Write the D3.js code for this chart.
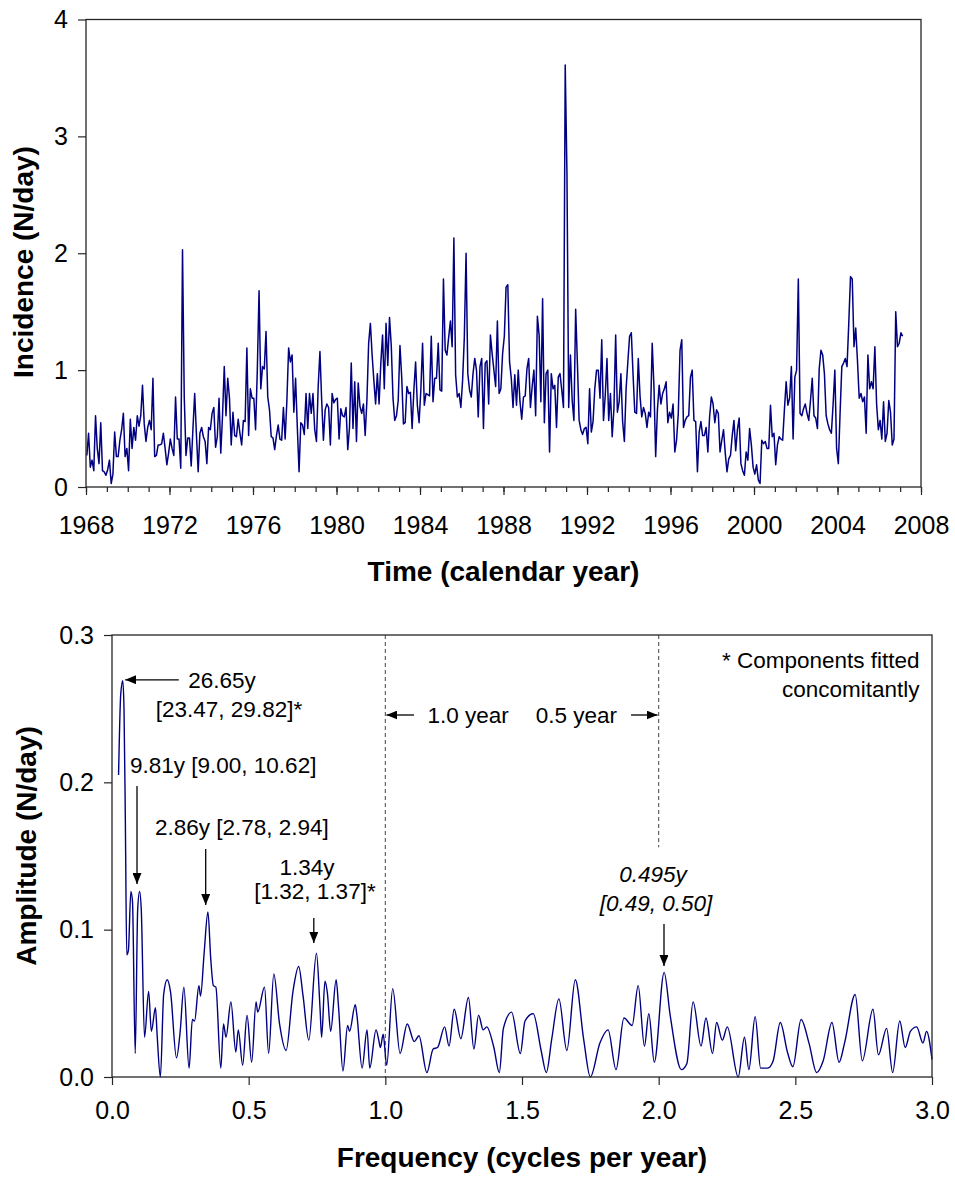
<!DOCTYPE html>
<html><head><meta charset="utf-8">
<script src="https://cdn.jsdelivr.net/npm/d3@7"></script>
<style>
body{margin:0;background:#fff}
svg{display:block}
text{font-family:"Liberation Sans", Arial, Helvetica, sans-serif; fill:#000}
</style>
</head><body>
<svg id="c" width="955" height="1180"></svg>
<script>
// ---------------- DATA ----------------
// Monthly incidence (N/day), starting January 1968
const startYear = 1968.04;
const incidence = [
0.27,0.46,0.17,0.23,0.14,0.61,0.33,0.20,0.55,0.14,0.13,0.10,
0.15,0.23,0.03,0.11,0.47,0.26,0.26,0.40,0.49,0.63,0.26,0.33,
0.14,0.58,0.33,0.51,0.40,0.61,0.52,0.61,0.87,0.54,0.39,0.51,
0.57,0.49,0.93,0.26,0.27,0.36,0.36,0.37,0.46,0.33,0.19,0.29,
0.41,0.33,0.27,0.77,0.41,0.41,0.16,2.03,0.77,0.27,0.42,0.42,
0.18,0.50,0.80,0.45,0.13,0.46,0.51,0.43,0.39,0.20,0.51,0.49,
0.63,0.68,0.34,0.43,0.76,0.29,0.61,1.03,0.61,0.93,0.76,0.36,
0.64,0.44,0.43,0.58,0.46,0.36,0.57,0.56,1.19,0.44,0.84,0.76,
0.76,0.49,1.00,1.68,0.84,1.03,1.01,1.33,0.77,0.66,0.43,0.42,
0.32,0.44,0.53,0.41,0.40,0.68,0.41,0.74,1.19,1.07,1.13,0.64,
0.93,0.51,
0.13,0.55,0.53,0.45,0.80,0.50,0.80,0.63,0.80,0.49,0.39,0.86,
1.16,0.74,0.40,0.66,0.71,0.68,0.36,0.80,0.72,0.75,0.76,0.41,
0.67,0.61,0.60,0.68,0.32,0.51,1.06,0.50,0.90,0.39,0.89,0.69,
0.63,0.71,0.44,0.74,1.23,1.40,1.13,0.91,0.71,0.97,0.71,1.06,
1.30,0.84,1.40,1.04,1.45,1.21,0.76,0.57,0.61,0.74,1.21,0.94,
0.54,0.55,0.86,0.80,0.81,0.50,0.83,1.07,0.70,0.55,0.83,1.23,
0.70,0.80,0.79,0.78,1.29,0.73,0.93,0.93,1.23,0.83,0.82,1.78,
1.17,1.13,1.28,1.42,1.20,2.13,0.96,0.77,0.80,0.68,0.91,1.28,
2.00,0.97,0.83,0.77,0.97,1.10,1.00,0.60,1.03,1.10,0.50,1.06,
1.08,0.71,1.30,1.14,1.00,0.86,1.42,0.80,0.84,1.14,1.29,1.71,1.73,
1.07,0.93,0.68,0.96,0.70,1.00,0.73,0.58,0.77,0.78,1.01,1.10,
0.68,0.86,1.00,0.61,1.46,1.30,0.73,1.61,0.55,0.97,1.00,0.30,
0.97,0.84,0.87,0.51,0.94,0.97,0.83,0.68,3.61,2.68,0.68,1.13,
0.74,0.57,1.52,1.06,0.57,0.49,0.45,0.50,0.51,0.37,0.84,0.47,
0.56,0.84,1.00,1.00,0.76,1.26,0.57,0.78,1.10,0.57,0.80,0.43,
0.67,1.30,0.64,0.73,0.97,0.56,0.39,0.84,1.07,1.29,1.32,0.96,
0.64,0.63,1.10,0.78,0.60,0.68,0.63,0.51,0.64,0.60,1.23,0.86,
0.26,0.66,0.87,0.71,0.80,0.84,0.90,0.55,0.64,0.59,0.71,0.30,
0.40,0.63,1.17,1.26,0.51,0.57,0.60,0.61,0.94,1.00,0.57,0.56,
0.13,0.47,0.56,0.44,0.44,0.51,0.30,0.60,0.77,0.71,0.55,0.66,0.63,
0.30,0.40,0.49,0.29,0.13,0.24,0.27,0.44,0.57,0.31,0.49,0.59,
0.20,0.14,0.10,0.30,0.23,0.50,0.36,0.17,0.11,0.19,0.06,0.03,
0.40,0.37,0.39,0.33,0.33,0.70,0.43,0.46,0.19,0.36,0.43,0.41,
0.40,0.66,0.90,0.70,0.76,1.03,0.41,0.94,1.00,1.78,0.63,0.61,
0.67,0.71,0.63,0.57,0.74,0.93,0.61,0.59,0.50,1.01,1.17,1.13,
0.97,0.61,0.54,0.49,0.46,0.71,1.00,0.33,0.20,0.63,1.03,1.06,
1.10,1.03,1.40,1.80,1.78,1.20,1.36,1.08,0.76,0.80,0.73,0.77,
0.46,1.13,0.84,0.90,0.84,1.20,0.71,0.49,0.57,0.41,0.73,0.39,
0.46,0.74,0.64,0.36,0.41,1.50,1.20,1.23,1.32,1.29
];
const yearMajorTicks = [1968,1972,1976,1980,1984,1988,1992,1996,2000,2004,2008];
const yearMinorTicks = d3.range(1968, 2009, 1);
const incTicks = [0,1,2,3,4];

// Amplitude spectrum (local extrema of the curve)
const specFreq = [
0.024,0.032,0.0395,0.044,0.049,0.054,0.060,0.069,0.075,0.085,0.094,0.101,0.107,0.119,0.134,0.144,0.159,0.165,0.177,0.189,0.202,0.214,0.236,0.249,0.263,0.282,0.294,0.302,0.318,0.324,0.337,0.351,0.361,0.371,0.380,0.398,0.408,0.417,0.435,0.453,0.462,0.478,0.494,0.511,0.527,0.533,0.558,0.573,0.592,0.613,0.637,0.662,0.683,0.699,0.720,0.748,
0.761,0.767,0.779,0.788,0.800,0.820,0.829,0.845,0.862,0.869,0.890,0.896,0.915,0.933,0.943,0.966,0.976,
0.982,0.992,1.005,1.027,1.054,1.080,1.106,1.123,1.152,1.175,1.191,1.217,1.233,1.252,1.276,1.304,1.324,1.341,1.358,1.371,1.397,1.417,1.432,1.462,1.494,1.511,1.541,1.570,1.589,1.609,1.635,1.664,1.695,1.726,1.750,1.785,1.815,1.844,1.873,1.903,1.925,1.948,1.964,1.984,2.020,2.042,2.083,2.103,2.126,2.155,2.173,2.197,2.212,2.233,2.251,2.291,2.314,2.330,2.353,2.373,2.399,2.419,2.445,2.471,2.491,2.521,2.550,2.578,2.602,2.634,2.660,2.680,2.719,2.745,2.784,2.804,2.834,2.856,2.882,2.902,2.921,2.944,2.967,2.980,3.000
];
const specAmp = [
0.205,0.260,0.269,0.249,0.171,0.083,0.086,0.126,0.119,0.016,0.114,0.126,0.114,0.027,0.058,0.031,0.047,0.029,0.000,0.056,0.066,0.058,0.013,0.030,0.061,0.006,0.039,0.038,0.062,0.055,0.084,0.112,0.081,0.062,0.061,0.006,0.036,0.027,0.051,0.017,0.032,0.008,0.042,0.010,0.051,0.044,0.061,0.016,0.070,0.036,0.018,0.058,0.075,0.055,0.025,0.084,
0.047,0.027,0.065,0.057,0.031,0.066,0.047,0.004,0.035,0.031,0.049,0.042,0.006,0.032,0.006,0.032,0.025,
0.020,0.029,0.008,0.060,0.016,0.036,0.024,0.028,0.003,0.019,0.020,0.034,0.021,0.046,0.026,0.054,0.019,0.042,0.032,0.034,0.020,0.003,0.033,0.044,0.016,0.038,0.043,0.018,0.003,0.026,0.053,0.018,0.066,0.025,0.000,0.023,0.032,0.005,0.040,0.035,0.062,0.021,0.043,0.010,0.071,0.042,0.005,0.009,0.051,0.021,0.040,0.016,0.037,0.025,0.034,0.000,0.027,0.005,0.041,0.006,0.006,0.011,0.037,0.017,0.007,0.039,0.023,0.003,0.011,0.037,0.010,0.023,0.056,0.011,0.046,0.015,0.033,0.003,0.038,0.020,0.031,0.034,0.023,0.031,0.012
];
const freqTicks = [0,0.5,1,1.5,2,2.5,3];
const ampTicks = [0,0.1,0.2,0.3];

// ---------------- DRAW ----------------
const svg = d3.select("#c");
svg.append("rect").attr("width",955).attr("height",1180).attr("fill","#fff");
const axisColor = "#262626";
const tickFont = 25, titleFont = 28, annFont = 22.5;

const defs = svg.append("defs");
defs.append("marker").attr("id","ah").attr("markerUnits","userSpaceOnUse")
  .attr("markerWidth",11).attr("markerHeight",9).attr("refX",11).attr("refY",4.5)
  .attr("orient","auto")
  .append("path").attr("d","M0,0 L11,4.5 L0,9 Z").attr("fill","#000");

// ===== TOP PANEL =====
const xT = d3.scaleLinear().domain([1968,2008]).range([86,921]);
const yT = d3.scaleLinear().domain([0,4]).range([487,19.5]);
const gT = svg.append("g");

const xMinor = d3.axisBottom(xT).tickValues(yearMinorTicks).tickSize(5).tickFormat("");
const xMajor = d3.axisBottom(xT).tickValues(yearMajorTicks).tickSize(8).tickPadding(21).tickFormat(d3.format("d"));
const yAx = d3.axisLeft(yT).tickValues(incTicks).tickSize(8).tickPadding(10).tickFormat(d3.format("d"));

function styleAxis(g){
  g.select(".domain").remove();
  g.selectAll("line").attr("stroke",axisColor).attr("stroke-width",1.2);
  g.selectAll("text").style("font-family",'"Liberation Sans", Arial, sans-serif').attr("fill","#000");
}
gT.append("g").attr("transform",`translate(0,${yT(0)})`).call(xMinor).call(styleAxis);
gT.append("g").attr("transform",`translate(0,${yT(0)})`).call(xMajor).call(styleAxis)
  .selectAll("text").style("font-size",tickFont+"px");
gT.append("g").attr("transform",`translate(${xT(1968)},0)`).call(yAx).call(styleAxis)
  .selectAll("text").style("font-size",tickFont+"px");

const lineT = d3.line().x((d,i)=>xT(startYear + i/12)).y(d=>yT(d));
gT.append("path").datum(incidence).attr("d",lineT)
  .attr("fill","none").attr("stroke","#000080").attr("stroke-width",1.5).attr("stroke-linejoin","round");

gT.append("rect").attr("x",xT(1968)).attr("y",yT(4))
  .attr("width",xT(2008)-xT(1968)).attr("height",yT(0)-yT(4))
  .attr("fill","none").attr("stroke",axisColor).attr("stroke-width",1.3);

gT.append("text").attr("x",(xT(1968)+xT(2008))/2).attr("y",581)
  .attr("text-anchor","middle").style("font-size",titleFont+"px").style("font-weight","bold")
  .text("Time (calendar year)");
gT.append("text").attr("transform",`translate(33,${262}) rotate(-90)`)
  .attr("text-anchor","middle").style("font-size",titleFont+"px").style("font-weight","bold")
  .text("Incidence (N/day)");

// ===== BOTTOM PANEL =====
const xB = d3.scaleLinear().domain([0,3]).range([112,932]);
const yB = d3.scaleLinear().domain([0,0.3]).range([1077,635]);
const gB = svg.append("g");

gB.append("g").attr("transform",`translate(0,${yB(0)})`)
  .call(d3.axisBottom(xB).tickValues(freqTicks).tickSize(8).tickPadding(16).tickFormat(d3.format(".1f")))
  .call(styleAxis).selectAll("text").style("font-size",tickFont+"px");
gB.append("g").attr("transform",`translate(${xB(0)},0)`)
  .call(d3.axisLeft(yB).tickValues(ampTicks).tickSize(8).tickPadding(10).tickFormat(d3.format(".1f")))
  .call(styleAxis).selectAll("text").style("font-size",tickFont+"px");

// dashed reference lines
gB.append("line").attr("x1",xB(1)).attr("x2",xB(1)).attr("y1",yB(0.3)).attr("y2",yB(0))
  .attr("stroke","#555").attr("stroke-width",1.1).attr("stroke-dasharray","4,3");
gB.append("line").attr("x1",xB(2)).attr("x2",xB(2)).attr("y1",yB(0.3)).attr("y2",yB(0.156))
  .attr("stroke","#555").attr("stroke-width",1.1).attr("stroke-dasharray","4,3");

const specData = specFreq.map((f,i)=>[f,specAmp[i]]);
const lineB = d3.line().curve(d3.curveMonotoneX).x(d=>xB(d[0])).y(d=>yB(d[1]));
gB.append("path").datum(specData).attr("d",lineB)
  .attr("fill","none").attr("stroke","#000080").attr("stroke-width",1.4).attr("stroke-linejoin","round");

gB.append("rect").attr("x",xB(0)).attr("y",yB(0.3))
  .attr("width",xB(3)-xB(0)).attr("height",yB(0)-yB(0.3))
  .attr("fill","none").attr("stroke",axisColor).attr("stroke-width",1.3);

gB.append("text").attr("x",(xB(0)+xB(3))/2).attr("y",1167)
  .attr("text-anchor","middle").style("font-size",titleFont+"px").style("font-weight","bold")
  .text("Frequency (cycles per year)");
gB.append("text").attr("transform",`translate(36,${846}) rotate(-90)`)
  .attr("text-anchor","middle").style("font-size",titleFont+"px").style("font-weight","bold")
  .text("Amplitude (N/day)");

// annotations (positions in data space)
function ann(f,a,str,anchor,italic){
  gB.append("text").attr("x",xB(f)).attr("y",yB(a)).attr("text-anchor",anchor)
    .style("font-size",annFont+"px").style("font-style",italic?"italic":"normal").text(str);
}
function arrow(f1,a1,f2,a2){
  gB.append("line").attr("x1",xB(f1)).attr("y1",yB(a1)).attr("x2",xB(f2)).attr("y2",yB(a2))
    .attr("stroke","#000").attr("stroke-width",1.3).attr("marker-end","url(#ah)");
}
ann(0.4024,0.2640,"26.65y","middle");
ann(0.428,0.2443,"[23.47, 29.82]*","middle");
arrow(0.2444,0.2696,0.0483,0.2696);
ann(0.0659,0.2063,"9.81y [9.00, 10.62]","start");
arrow(0.0915,0.1975,0.0915,0.131);
ann(0.157,0.1643,"2.86y [2.78, 2.94]","start");
arrow(0.3428,0.1548,0.3428,0.1167);
ann(0.7134,0.1371,"1.34y","middle");
ann(0.7427,0.1208,"[1.32, 1.37]*","middle");
arrow(0.7383,0.1079,0.7383,0.0910);
ann(1.1543,0.2403,"1.0 year","start");
arrow(1.105,0.2457,1.004,0.2457);
ann(1.8476,0.2403,"0.5 year","end");
arrow(1.899,0.2457,1.996,0.2457);
ann(1.979,0.1324,"0.495y","middle",true);
ann(1.990,0.1127,"[0.49, 0.50]","middle",true);
arrow(2.0195,0.1038,2.0195,0.0753);
ann(2.9546,0.2776,"* Components fitted","end");
ann(2.9546,0.2579,"concomitantly","end");
</script>
</body></html>
